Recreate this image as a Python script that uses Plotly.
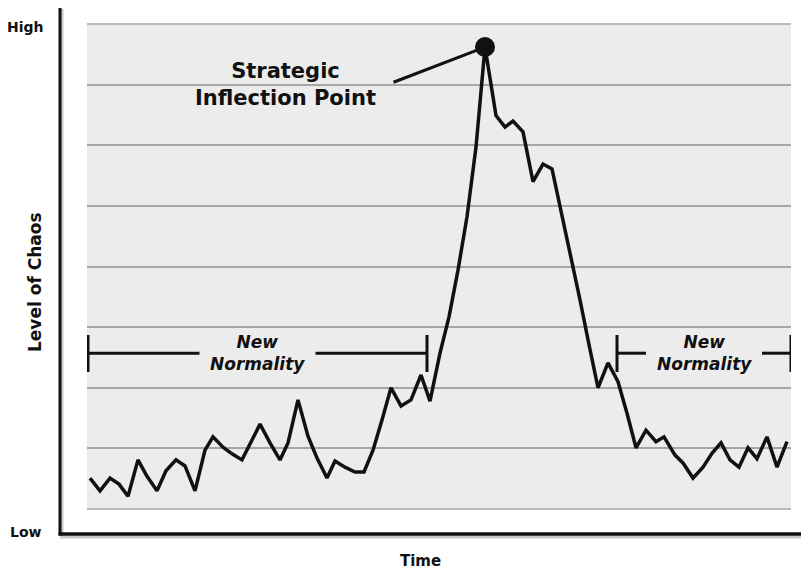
import plotly.graph_objects as go

# ---- data ----
time = [3, 13, 23, 32, 41, 51, 60, 70, 79, 89,
        98, 108, 118, 126, 136, 145, 155, 164, 173, 183,
        193, 201, 211, 221, 230, 240, 248, 258, 268, 277,
        286, 295, 304, 314, 324, 334, 343, 353, 362, 371,
        380, 389, 398, 409, 418, 426, 436, 446, 456, 465,
        475, 484, 493, 502, 511, 521, 531, 540, 549, 559,
        569, 577, 588, 596, 606, 616, 625, 634, 643, 652,
        661, 670, 680, 690, 700]
chaos = [0.51, 0.30, 0.51, 0.41, 0.21, 0.81, 0.54, 0.30, 0.63, 0.81,
         0.71, 0.30, 0.97, 1.19, 1.02, 0.91, 0.81, 1.12, 1.40, 1.09,
         0.81, 1.09, 1.80, 1.20, 0.84, 0.51, 0.79, 0.69, 0.61, 0.61,
         0.97, 1.47, 2.00, 1.70, 1.80, 2.21, 1.78, 2.57, 3.17, 3.94,
         4.82, 5.97, 7.62, 6.49, 6.30, 6.40, 6.22, 5.40, 5.69, 5.61,
         4.85, 4.14, 3.45, 2.71, 2.00, 2.41, 2.10, 1.58, 1.01, 1.30,
         1.11, 1.19, 0.89, 0.76, 0.51, 0.69, 0.92, 1.09, 0.81, 0.69,
         1.01, 0.83, 1.19, 0.69, 1.11]
normality_periods = [(1, 340), (530, 704)]
normality_label = "New<br>Normality"
inflection_label = "Strategic<br>Inflection Point"
y_labels = ["High", "Low"]
x_title = "Time"
y_title = "Level of Chaos"

FONT = "DejaVu Sans"
INK = "#111111"
GRID = "#a6a6a6"

peak_i = max(range(len(chaos)), key=lambda i: chaos[i])
peak_t, peak_v = time[peak_i], chaos[peak_i]

fig = go.Figure()
fig.add_trace(go.Scatter(x=time, y=chaos, mode="lines",
                         line=dict(color=INK, width=3.5),
                         hoverinfo="skip", showlegend=False))
fig.add_trace(go.Scatter(x=[peak_t], y=[peak_v], mode="markers",
                         marker=dict(color=INK, size=20),
                         hoverinfo="skip", showlegend=False))

shapes = []
annotations = []

# edge grid lines (top / bottom of panel)
for yy in (0, 1):
    shapes.append(dict(type="line", xref="paper", yref="paper", x0=0, x1=1,
                       y0=yy, y1=yy, layer="below", line=dict(color=GRID, width=1.5)))

# New Normality brackets
bar_lo, bar_hi, bar_mid = 2.26, 2.87, 2.57
for (t0, t1) in normality_periods:
    mid = (t0 + t1) / 2
    gap = 58
    for tb in (t0, t1):
        shapes.append(dict(type="line", xref="x", yref="y", x0=tb, x1=tb,
                           y0=bar_lo, y1=bar_hi, line=dict(color=INK, width=3)))
    shapes.append(dict(type="line", xref="x", yref="y", x0=t0, x1=mid - gap,
                       y0=bar_mid, y1=bar_mid, line=dict(color=INK, width=3)))
    shapes.append(dict(type="line", xref="x", yref="y", x0=mid + gap, x1=t1,
                       y0=bar_mid, y1=bar_mid, line=dict(color=INK, width=3)))
    annotations.append(dict(x=mid, y=bar_mid, xref="x", yref="y",
                            xanchor="center", yanchor="middle",
                            text="<b><i>" + normality_label + "</i></b>",
                            showarrow=False, align="center",
                            font=dict(family=FONT, size=17, color=INK)))

# Strategic inflection point
annotations.append(dict(x=198, y=7.01, xref="x", yref="y",
                        xanchor="center", yanchor="middle",
                        text="<b>" + inflection_label + "</b>",
                        showarrow=False, align="center",
                        font=dict(family=FONT, size=21, color=INK)))
annotations.append(dict(x=peak_t, y=peak_v, xref="x", yref="y",
                        ax=305, ay=7.03, axref="x", ayref="y",
                        text="", showarrow=True, arrowhead=0,
                        arrowwidth=3, arrowcolor=INK, standoff=0,
                        startstandoff=0))

# page has an 8px body margin; layout planned in page pixels
OFF = 8
W, H = 809 - OFF, 574 - OFF
L, R = 87, 791
T, B = 24, 509
pw, ph = R - L, B - T
def px(x):
    return (x - L) / pw
def py(y):
    return (B - y) / ph

shapes.append(dict(type="line", xref="paper", yref="paper",
                   x0=px(62), x1=px(62), y0=py(9), y1=py(536),
                   line=dict(color="#c8c8c8", width=3)))
shapes.append(dict(type="line", xref="paper", yref="paper",
                   x0=px(60), x1=px(809), y0=py(537), y1=py(537),
                   line=dict(color="#c8c8c8", width=3)))
shapes.append(dict(type="line", xref="paper", yref="paper",
                   x0=px(60), x1=px(60), y0=py(7), y1=py(535.5),
                   line=dict(color=INK, width=3)))
shapes.append(dict(type="line", xref="paper", yref="paper",
                   x0=px(58.5), x1=px(809), y0=py(534), y1=py(534),
                   line=dict(color=INK, width=3.5)))

def label(x, y, text, size, angle=0):
    return dict(x=px(x), y=py(y), xref="paper", yref="paper",
                xanchor="center", yanchor="middle", textangle=angle,
                text="<b>" + text + "</b>", showarrow=False,
                font=dict(family=FONT, size=size, color=INK))

annotations += [
    label(26, 27, y_labels[0], 14),
    label(26, 532, y_labels[1], 14),
    label(35, 282, y_title, 17, -90),
    label(420, 561, x_title, 15),
]

fig.update_layout(
    width=W, height=H,
    margin=dict(l=L - OFF, r=W - (R - OFF), t=T - OFF, b=H - (B - OFF), pad=0),
    paper_bgcolor="white", plot_bgcolor="#ececec",
    shapes=shapes, annotations=annotations, showlegend=False,
    xaxis=dict(range=[0, pw], showgrid=False, zeroline=False, showticklabels=False,
               showline=False, ticks="", fixedrange=True),
    yaxis=dict(range=[0, 8], dtick=1, tick0=0, showgrid=True, gridcolor=GRID,
               gridwidth=1.5, zeroline=False, showticklabels=False, showline=False,
               ticks="", fixedrange=True),
)

fig.write_html("out.html")
